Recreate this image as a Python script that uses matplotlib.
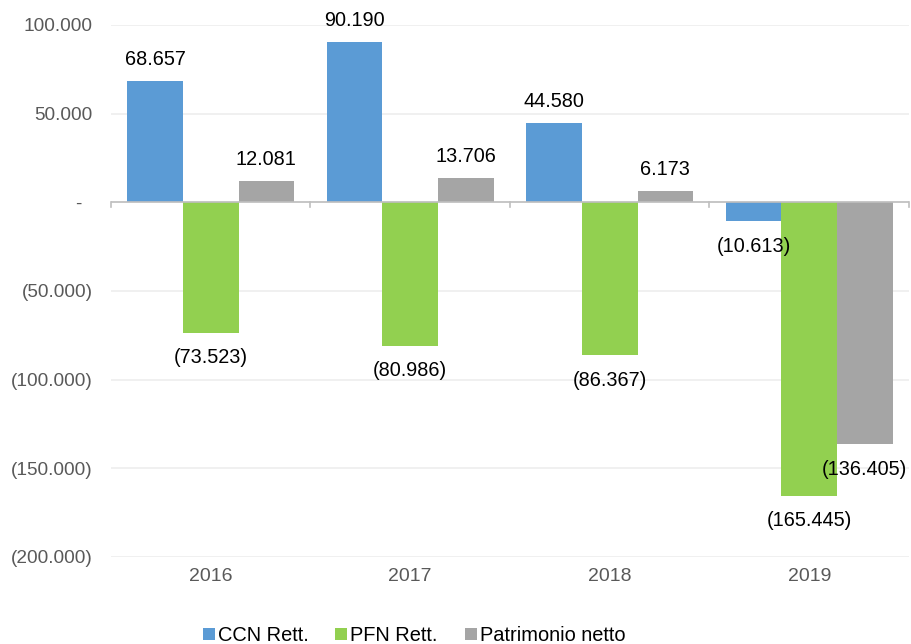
import numpy as np
import matplotlib.pyplot as plt
from matplotlib.ticker import FuncFormatter

plt.rcParams['font.family'] = ['Liberation Sans', 'DejaVu Sans']

anni = ['2016', '2017', '2018', '2019']
ccn = [68657, 90190, 44580, -10613]
pfn = [-73523, -80986, -86367, -165445]
patrimonio = [12081, 13706, 6173, -136405]

serie = [('CCN Rett.', ccn, '#5B9BD5'),
         ('PFN Rett.', pfn, '#92D050'),
         ('Patrimonio netto', patrimonio, '#A5A5A5')]


def fmt_num(v, pos=None):
    if v == 0:
        return '-  '
    s = f'{abs(v):,.0f}'.replace(',', '.')
    return f'({s})' if v < 0 else s


fig = plt.figure(figsize=(9.12, 6.44), dpi=100)
ax = fig.add_axes([0.1217, 0.1351, 0.8750, 0.8261])

x = np.arange(len(anni))
w = 0.279
for i, (nome, vals, col) in enumerate(serie):
    pos = x + (i - 1) * w
    ax.bar(pos, vals, width=w, color=col, label=nome, zorder=2)
    for xp, v in zip(pos, vals):
        off = 15.5 if v > 0 else -18
        ax.annotate(fmt_num(v), (xp, v), xytext=(0, off), textcoords='offset points',
                    ha='center', va='center', fontsize=14.3, color='black', zorder=3)

ax.set_ylim(-200000, 100000)
ax.set_xlim(-0.5, len(anni) - 0.5)
ax.set_yticks(np.arange(-200000, 100001, 50000))
ax.yaxis.set_major_formatter(FuncFormatter(fmt_num))
ax.grid(axis='y', color='#EEEEEE', linewidth=1.2, zorder=0)
ax.axhline(0, color='#BFBFBF', linewidth=1.2, zorder=2.5)
# tacche sull'asse dello zero ai confini delle categorie
for b in np.arange(-0.5, len(anni), 1):
    ax.plot([b, b], [0, -2800], color='#BFBFBF', linewidth=1.2, zorder=2.5, clip_on=False)

ax.set_xticks(x)
ax.set_xticklabels(anni)
ax.tick_params(axis='x', length=0, pad=8, labelsize=14, labelcolor='#595959')
ax.tick_params(axis='y', length=0, pad=13, labelsize=13.7, labelcolor='#595959')
for s in ax.spines.values():
    s.set_visible(False)

fig.legend(loc='center', bbox_to_anchor=(0.454, 0.013), ncol=3, frameon=False,
           fontsize=14.4, handlelength=0.6, handleheight=0.6, handletextpad=0.15,
           columnspacing=1.35)

fig.savefig('out.png', dpi=100)
